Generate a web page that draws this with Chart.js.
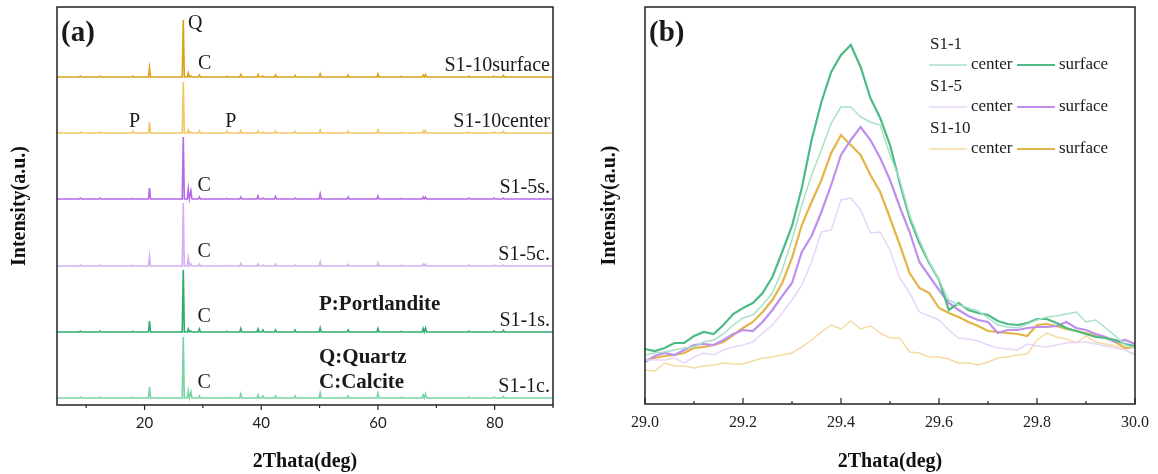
<!DOCTYPE html>
<html>
<head>
<meta charset="utf-8">
<script src="https://cdn.jsdelivr.net/npm/chart.js@4.4.1/dist/chart.umd.min.js"></script>
<style>
    html, body { margin: 0; padding: 0; background: #fff; }
    #wrap { position: relative; width: 1158px; height: 474px; overflow: hidden; }
    #chartA { position: absolute; left: 0; top: 0; }
    #chartB { position: absolute; left: 588px; top: 0; }
</style>
</head>
<body>
<div id="wrap">
    <canvas id="chartA" width="580" height="474"></canvas>
    <canvas id="chartB" width="570" height="474"></canvas>
</div>
<script>
// ---- panel (a): full XRD patterns, stacked ----
var xrdPeaks = [9.0, 12.4, 18.0, 20.85, 26.64, 27.5, 27.95, 29.4, 34.1, 36.5, 39.45, 40.3, 42.45, 45.8, 50.1, 54.9, 60.0, 64.0, 67.75, 68.15, 75.6, 79.9, 81.5];
var sampleNames = ['S1-1c.', 'S1-1s.', 'S1-5c.', 'S1-5s.', 'S1-10center', 'S1-10surface'];
var sampleOffsets = [7, 73, 139, 206, 272, 328];
var peaksS1_1c = [1, 1, 0.5, 11, 61, 7, 6, 2, 0.5, 4, 3, 2, 2, 2, 5, 2, 4.5, 0.5, 3, 4, 1, 1, 1.5];
var peaksS1_1s = [1, 1, 0.5, 11, 62, 3, 1, 3, 0.5, 3.5, 3, 2, 2, 2, 4, 2, 3.5, 0.5, 3.5, 4, 1, 1, 1.5];
var peaksS1_5c = [1, 1, 0.5, 10, 63, 8, 2, 2, 0.5, 2.5, 2, 1, 2, 1, 4, 1.5, 3, 0.5, 2, 2, 1, 1, 1];
var peaksS1_5s = [1, 1, 0.5, 11, 62, 10, 8, 2, 0.5, 2, 3, 1, 2.5, 1, 5, 2, 3, 0.5, 2, 2, 1, 1, 1];
var peaksS1_10c = [1, 1, 2, 11, 51, 3, 1, 2, 2, 2.5, 2, 1, 2, 1.5, 3, 2, 3, 0.5, 2, 2.5, 1, 1, 1.5];
var peaksS1_10s = [1, 1, 1, 9, 57, 4, 1, 2, 0.5, 2.5, 2.5, 1, 2, 1.5, 3, 2, 3, 0.5, 2, 2.5, 1, 1, 1.5];
var ticksA = [10, 20, 30, 40, 50, 60, 70, 80, 90];
var labelsA = [20, 40, 60, 80];

var markText = ['Q', 'C', 'P', 'P', 'C', 'C', 'C', 'C'];
var markX = [28.7, 30.3, 18.3, 34.8, 30.2, 30.2, 30.2, 30.2];
var markY = [381, 341, 283, 283, 219, 153, 88, 22];
var phaseText = ['P:Portlandite', 'Q:Quartz', 'C:Calcite'];
var phaseY = [100, 47, 22];

// ---- panel (b): zoom on the calcite peak ----
var thetaB = [29.00, 29.02, 29.04, 29.06, 29.08, 29.10, 29.12, 29.14, 29.16, 29.18,
    29.20, 29.22, 29.24, 29.26, 29.28, 29.30, 29.32, 29.34, 29.36, 29.38,
    29.40, 29.42, 29.44, 29.46, 29.48, 29.50, 29.52, 29.54, 29.56, 29.58,
    29.60, 29.62, 29.64, 29.66, 29.68, 29.70, 29.72, 29.74, 29.76, 29.78,
    29.80, 29.82, 29.84, 29.86, 29.88, 29.90, 29.92, 29.94, 29.96, 29.98, 30.00];
var s1_1center = [49, 51, 52, 54, 56, 57, 62, 64, 70, 79, 86, 89, 99, 111, 134, 164,
    199, 229, 254, 281, 297, 297, 287, 282, 279, 249, 224, 189, 164, 142, 124,
    104, 99, 96, 93, 86, 79, 77, 76, 80, 84, 87, 88, 90, 92, 82, 84, 76, 68, 59, 56];
var s1_1surface = [55, 53, 56, 61, 61, 68, 72, 70, 79, 90, 96, 101, 111, 127, 152, 178,
    216, 264, 302, 332, 349, 359, 337, 306, 286, 259, 221, 186, 161, 141, 124,
    94, 101, 94, 91, 89, 83, 80, 79, 81, 85, 85, 81, 76, 73, 70, 67, 66, 64, 60, 58];
var s1_5center = [44, 44, 44, 46, 41, 47, 51, 49, 54, 57, 59, 62, 71, 79, 91, 104,
    119, 142, 172, 174, 204, 206, 194, 171, 172, 154, 126, 111, 92, 88, 84,
    74, 66, 65, 63, 59, 56, 55, 54, 60, 58, 57, 59, 61, 62, 62, 60, 58, 56, 54, 50];
var s1_5surface = [42, 48, 51, 49, 54, 59, 60, 59, 64, 70, 74, 73, 82, 94, 108, 121,
    152, 168, 192, 219, 249, 264, 277, 264, 246, 224, 197, 172, 142, 128, 114,
    101, 94, 88, 84, 82, 71, 74, 74, 76, 77, 77, 78, 82, 76, 74, 70, 67, 62, 64, 60];
var s1_10center = [34, 33, 41, 38, 38, 36, 38, 39, 41, 40, 40, 43, 46, 47, 49, 51,
    57, 64, 72, 79, 75, 83, 75, 78, 71, 66, 66, 52, 51, 47, 47,
    45, 41, 41, 39, 42, 46, 47, 49, 50, 64, 71, 67, 65, 61, 68, 62, 60, 58, 54, 49];
var s1_10surface = [44, 46, 48, 49, 51, 56, 57, 59, 62, 69, 76, 82, 92, 104, 121, 146,
    179, 202, 224, 251, 269, 259, 249, 229, 212, 186, 159, 131, 116, 111, 96,
    91, 87, 82, 78, 73, 72, 71, 70, 68, 79, 80, 78, 75, 73, 71, 68, 66, 62, 56, 57];
var ticksB = [29.0, 29.1, 29.2, 29.3, 29.4, 29.5, 29.6, 29.7, 29.8, 29.9, 30.0];
var groupNames = ['S1-1', 'S1-5', 'S1-10'];

var SERIF = '"Liberation Serif", "Times New Roman", serif';
var colorsA = ['#79d3a6', '#32ab6e', '#d7b0f2', '#b56be6', '#efc867', '#d9a419'];
var colorsB = ['#a8e2c6', '#4cbb85', '#e8d5fa', '#bf8fee', '#f5dba2', '#e3b446'];

function buildPattern(heights, offset) {
    var pts = [{ x: 5, y: offset }];
    var w = 0.18;
    for (var i = 0; i < xrdPeaks.length; i++) {
        pts.push({ x: xrdPeaks[i] - w, y: offset });
        pts.push({ x: xrdPeaks[i], y: offset + heights[i] });
        pts.push({ x: xrdPeaks[i] + w, y: offset });
    }
    pts.push({ x: 90, y: offset });
    return pts;
}

function zip(xs, ys) {
    return xs.map(function (x, i) { return { x: x, y: ys[i] }; });
}

// frame around the plot area plus hand drawn major/minor ticks
var frameTicks = {
    id: 'frameTicks',
    afterDraw: function (chart, args, opts) {
        var ctx = chart.ctx, a = chart.chartArea, xs = chart.scales.x;
        ctx.save();
        ctx.strokeStyle = '#222';
        ctx.lineWidth = 1.5;
        ctx.strokeRect(a.left, a.top, a.right - a.left, a.bottom - a.top);
        ctx.lineWidth = 1.2;
        xs.ticks.forEach(function (t) {
            var px = xs.getPixelForValue(t.value);
            var len = t.label ? opts.major : opts.minor;
            ctx.beginPath();
            ctx.moveTo(px, a.bottom);
            ctx.lineTo(px, a.bottom + opts.dir * len);
            ctx.stroke();
        });
        ctx.restore();
    }
};

var labelsPluginA = {
    id: 'labelsA',
    afterDatasetsDraw: function (chart) {
        var ctx = chart.ctx, a = chart.chartArea;
        var xs = chart.scales.x, ys = chart.scales.y;
        ctx.save();
        ctx.fillStyle = '#1a1a1a';
        ctx.textBaseline = 'middle';

        ctx.font = 'bold 29px ' + SERIF;
        ctx.textAlign = 'left';
        ctx.fillText('(a)', a.left + 4, a.top + 27);

        ctx.font = '20px ' + SERIF;
        ctx.textAlign = 'right';
        for (var i = 0; i < sampleNames.length; i++) {
            ctx.fillText(sampleNames[i], a.right - 3, ys.getPixelForValue(sampleOffsets[i]) - 11);
        }

        ctx.textAlign = 'center';
        for (var j = 0; j < markText.length; j++) {
            ctx.fillText(markText[j], xs.getPixelForValue(markX[j]), ys.getPixelForValue(markY[j]));
        }

        ctx.font = 'bold 21px ' + SERIF;
        ctx.textAlign = 'left';
        for (var k = 0; k < phaseText.length; k++) {
            ctx.fillText(phaseText[k], xs.getPixelForValue(49.9), ys.getPixelForValue(phaseY[k]));
        }
        ctx.restore();
    }
};

var legendPluginB = {
    id: 'legendB',
    afterDatasetsDraw: function (chart) {
        var ctx = chart.ctx, a = chart.chartArea;
        ctx.save();
        ctx.fillStyle = '#1a1a1a';
        ctx.textBaseline = 'middle';
        ctx.font = 'bold 29px ' + SERIF;
        ctx.fillText('(b)', a.left + 4, a.top + 27);

        ctx.font = '17px ' + SERIF;
        for (var g = 0; g < groupNames.length; g++) {
            var hy = a.top + 38 + 42 * g;
            var ly = a.top + 58 + 42 * g;
            ctx.fillStyle = '#1a1a1a';
            ctx.fillText(groupNames[g], a.left + 285, hy);

            ctx.strokeStyle = colorsB[g * 2];
            ctx.lineWidth = 1.5;
            ctx.beginPath();
            ctx.moveTo(a.left + 284, ly);
            ctx.lineTo(a.left + 322, ly);
            ctx.stroke();
            ctx.fillText('center', a.left + 326, ly);

            ctx.strokeStyle = colorsB[g * 2 + 1];
            ctx.lineWidth = 2.2;
            ctx.beginPath();
            ctx.moveTo(a.left + 372, ly);
            ctx.lineTo(a.left + 410, ly);
            ctx.stroke();
            ctx.fillText('surface', a.left + 414, ly);
        }
        ctx.restore();
    }
};

var patternsA = [peaksS1_1c, peaksS1_1s, peaksS1_5c, peaksS1_5s, peaksS1_10c, peaksS1_10s];
var datasetsA = patternsA.map(function (h, i) {
    return {
        label: sampleNames[i],
        data: buildPattern(h, sampleOffsets[i]),
        borderColor: colorsA[i],
        borderWidth: 1.6,
        pointRadius: 0,
        tension: 0
    };
});

var titleFont = { family: SERIF, size: 20, weight: 'bold' };

new Chart(document.getElementById('chartA'), {
    type: 'line',
    data: { datasets: datasetsA },
    options: {
        responsive: false,
        animation: false,
        layout: { padding: { top: 7, right: 27, left: 0, bottom: 0 } },
        plugins: {
            legend: { display: false },
            tooltip: { enabled: false },
            frameTicks: { dir: 1, major: 5, minor: 3 }
        },
        scales: {
            x: {
                type: 'linear', min: 5, max: 90,
                afterBuildTicks: function (s) { s.ticks = ticksA.map(function (v) { return { value: v }; }); },
                afterFit: function (s) { s.height = 69; },
                grid: { display: false, drawTicks: false },
                border: { display: false },
                ticks: {
                    padding: 9, autoSkip: false, maxRotation: 0, color: '#222',
                    font: { family: 'Lato, "Open Sans", sans-serif', size: 15 },
                    callback: function (v) { return labelsA.indexOf(v) >= 0 ? String(v) : ''; }
                },
                title: {
                    display: true, text: '2Thata(deg)', color: '#111',
                    font: titleFont,
                    padding: { top: 0, bottom: 0 }
                }
            },
            y: {
                min: 0, max: 398,
                afterFit: function (s) { s.width = 57; },
                grid: { display: false, drawTicks: false },
                border: { display: false },
                ticks: { display: false },
                title: {
                    display: true, text: 'Intensity(a.u.)', color: '#111',
                    font: titleFont,
                    padding: { top: 8, bottom: 0 }
                }
            }
        }
    },
    plugins: [frameTicks, labelsPluginA]
});

var seriesB = [s1_1center, s1_1surface, s1_5center, s1_5surface, s1_10center, s1_10surface];
var datasetsB = seriesB.map(function (ys, i) {
    return {
        label: groupNames[Math.floor(i / 2)] + (i % 2 ? ' surface' : ' center'),
        data: zip(thetaB, ys),
        borderColor: colorsB[i],
        borderWidth: i % 2 ? 2.2 : 1.5,
        pointRadius: 0,
        tension: 0
    };
});

new Chart(document.getElementById('chartB'), {
    type: 'line',
    data: { datasets: datasetsB },
    options: {
        responsive: false,
        animation: false,
        layout: { padding: { top: 7, right: 21, left: 0, bottom: 0 } },
        plugins: {
            legend: { display: false },
            tooltip: { enabled: false },
            frameTicks: { dir: -1, major: 6, minor: 3 }
        },
        scales: {
            x: {
                type: 'linear', min: 29, max: 30,
                afterBuildTicks: function (s) { s.ticks = ticksB.map(function (v) { return { value: v }; }); },
                afterFit: function (s) { s.height = 70; },
                grid: { display: false, drawTicks: false },
                border: { display: false },
                ticks: {
                    padding: 9, autoSkip: false, maxRotation: 0, color: '#222',
                    font: { family: SERIF, size: 16 },
                    callback: function (v) { return Math.round(v * 10) % 2 === 0 ? v.toFixed(1) : ''; }
                },
                title: {
                    display: true, text: '2Thata(deg)', color: '#111',
                    font: titleFont,
                    padding: { top: 0, bottom: 0 }
                }
            },
            y: {
                min: 0, max: 397,
                afterFit: function (s) { s.width = 57; },
                grid: { display: false, drawTicks: false },
                border: { display: false },
                ticks: { display: false },
                title: {
                    display: true, text: 'Intensity(a.u.)', color: '#111',
                    font: titleFont,
                    padding: { top: 10, bottom: 0 }
                }
            }
        }
    },
    plugins: [frameTicks, legendPluginB]
});
</script>
</body>
</html>
